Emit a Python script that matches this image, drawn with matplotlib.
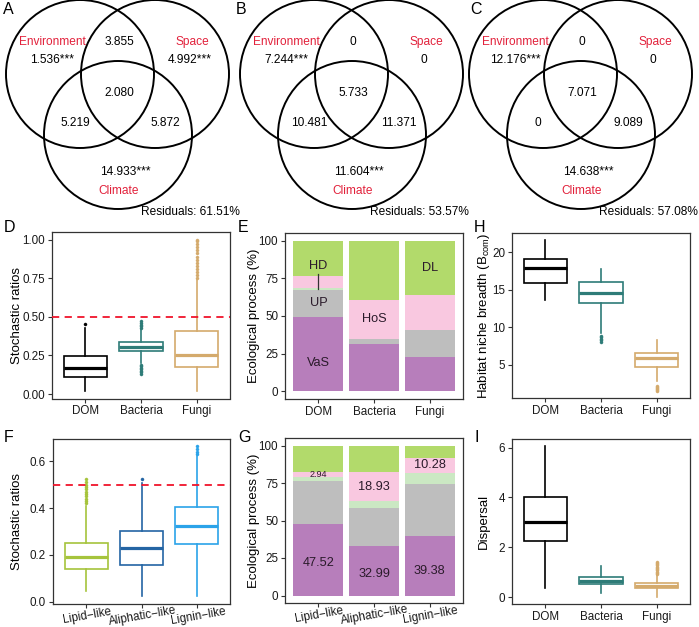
import matplotlib
matplotlib.use("Agg")
import matplotlib.pyplot as plt
from matplotlib.patches import Circle

plt.rcParams['font.family'] = ['Liberation Sans', 'DejaVu Sans']
plt.rcParams['mathtext.fontset'] = 'custom'
plt.rcParams['mathtext.rm'] = 'Liberation Sans'
plt.rcParams['axes.unicode_minus'] = True

# ---------------- DATA ----------------
# Venn (variation partitioning) values for panels A, B, C
env_only = [1.536, 7.244, 12.176]
space_only = [4.992, 0, 0]
climate_only = [14.933, 11.604, 14.638]
env_space = [3.855, 0, 0]
env_climate = [5.219, 10.481, 0]
space_climate = [5.872, 11.371, 9.089]
all_three = [2.080, 5.733, 7.071]
residuals = [61.51, 53.57, 57.08]
signif_only = ["***", "***", "***"]

groups = ["DOM", "Bacteria", "Fungi"]
mol_groups = ["Lipid\u2212like", "Aliphatic\u2212like", "Lignin\u2212like"]

# D: stochastic ratios (boxplot stats)
D_q1 = [0.11, 0.28, 0.175]
D_med = [0.17, 0.305, 0.255]
D_q3 = [0.245, 0.335, 0.405]
D_lo = [0.02, 0.20, 0.02]
D_hi = [0.43, 0.42, 0.74]
D_fliers = [[0.455],
            [0.13, 0.14, 0.15, 0.16, 0.17, 0.18, 0.19, 0.43, 0.44, 0.45, 0.46, 0.47],
            [0.75, 0.77, 0.79, 0.81, 0.83, 0.85, 0.87, 0.89, 0.91, 0.93, 0.95, 0.97, 0.99, 1.0]]

# F: stochastic ratios by molecular class
F_q1 = [0.14, 0.158, 0.248]
F_med = [0.19, 0.229, 0.325]
F_q3 = [0.253, 0.30, 0.403]
F_lo = [0.045, 0.024, 0.024]
F_hi = [0.41, 0.505, 0.62]
F_fliers = [[0.42, 0.43, 0.44, 0.45, 0.46, 0.47, 0.48, 0.49, 0.50, 0.51, 0.525],
            [0.523],
            [0.63, 0.64, 0.65, 0.665]]

# H: habitat niche breadth
H_q1 = [15.97, 13.3, 4.78]
H_med = [17.88, 14.65, 5.88]
H_q3 = [19.07, 16.1, 6.6]
H_lo = [13.67, 9.2, 2.9]
H_hi = [21.63, 17.74, 8.27]
H_fliers = [[], [8.1, 8.3, 8.5, 8.7, 8.9], [1.5, 1.6, 1.75, 1.9, 2.1, 2.2]]

# I: dispersal
I_q1 = [2.27, 0.52, 0.37]
I_med = [3.0, 0.63, 0.46]
I_q3 = [4.0, 0.79, 0.58]
I_lo = [0.38, 0.17, 0.02]
I_hi = [6.05, 1.25, 0.88]
I_fliers = [[], [], [0.92, 0.97, 1.02, 1.07, 1.12, 1.17, 1.22, 1.27, 1.32, 1.37, 1.4]]

# E: ecological processes (%) for DOM, Bacteria, Fungi
processes = ["VaS", "UP", "HD", "HoS", "DL"]
E_VaS = [49.5, 31.4, 23.1]
E_UP = [17.6, 3.1, 17.4]
E_HD = [1.6, 0.4, 0.3]
E_HoS = [7.5, 25.6, 23.0]
E_DL = [23.8, 39.5, 36.2]

# G: ecological processes (%) for molecular classes
G_VaS = [47.52, 32.99, 39.38]
G_UP = [29.0, 25.4, 35.0]
G_HD = [2.70, 4.70, 7.30]
G_HoS = [2.94, 18.93, 10.28]
G_DL = [17.84, 17.98, 8.04]

# ---------------- STYLE ----------------
W, H = 699, 627
fig = plt.figure(figsize=(W / 100, H / 100), dpi=100)

proc_colors = ["#B77EBB", "#BEBEBE", "#CBE8C3", "#F9C8E0", "#B2DA6B"]
grp_colors = ["#000000", "#2E7C78", "#D4AA6C"]
mol_colors = ["#A6C43C", "#2465A4", "#2BA3E9"]
red_lab = "#E2213B"
frame_c = "#333333"


def px_axes(x0, y0, x1, y1):
    return fig.add_axes([x0 / W, 1 - y1 / H, (x1 - x0) / W, (y1 - y0) / H])


def style_axes(ax):
    for s in ax.spines.values():
        s.set_color(frame_c)
        s.set_linewidth(0.9)
    ax.tick_params(direction='out', length=3, width=0.8, color=frame_c,
                   labelsize=8.4, labelcolor='#1a1a1a', pad=2)


# ---------------- VENN (A, B, C) ----------------
axv = px_axes(0, 0, W, 222)
axv.set_xlim(0, W)
axv.set_ylim(222, 0)
axv.axis('off')
offsets = [0, 234, 463]
res_right = [240, 469, 698]
circ_centers = [(80, 74), (155, 74), (118, 135)]
R = 74


def fmt(v):
    return "0" if v == 0 else f"{v:.3f}"


for k, ox in enumerate(offsets):
    for (cx, cy) in circ_centers:
        axv.add_patch(Circle((ox + cx, cy), R, fill=False, lw=1.4,
                             edgecolor='black', clip_on=False))
    fs = 8.6
    axv.text(ox + 52, 42, "Environment", color=red_lab, fontsize=fs, ha='center', va='center')
    axv.text(ox + 192, 42, "Space", color=red_lab, fontsize=fs, ha='center', va='center')
    axv.text(ox + 119, 191, "Climate", color=red_lab, fontsize=fs, ha='center', va='center')
    axv.text(ox + 52, 60, fmt(env_only[k]) + (signif_only[k] if env_only[k] else ""),
             fontsize=fs, ha='center', va='center')
    axv.text(ox + 190, 60, fmt(space_only[k]) + (signif_only[k] if space_only[k] else ""),
             fontsize=fs, ha='center', va='center')
    axv.text(ox + 125, 172, fmt(climate_only[k]) + (signif_only[k] if climate_only[k] else ""),
             fontsize=fs, ha='center', va='center')
    axv.text(ox + 119, 42, fmt(env_space[k]), fontsize=fs, ha='center', va='center')
    axv.text(ox + 75, 123, fmt(env_climate[k]), fontsize=fs, ha='center', va='center')
    axv.text(ox + 165, 123, fmt(space_climate[k]), fontsize=fs, ha='center', va='center')
    axv.text(ox + 119, 93, fmt(all_three[k]), fontsize=fs, ha='center', va='center')
    axv.text(res_right[k], 212, f"Residuals: {residuals[k]:.2f}%", fontsize=fs,
             ha='right', va='center')

# panel letters
letters = [("A", 3, 10), ("B", 236, 10), ("C", 470, 10),
           ("D", 4, 228), ("E", 238, 228), ("H", 474, 228),
           ("F", 4, 437), ("G", 238, 437), ("I", 474, 437)]
for t, x, y in letters:
    fig.text(x / W, 1 - y / H, t, fontsize=11.5, ha='left', va='center')


# ---------------- BOXPLOTS ----------------
def boxplot(ax, q1, med, q3, lo, hi, fl, colors):
    for i in range(3):
        st = dict(med=med[i], q1=q1[i], q3=q3[i], whislo=lo[i], whishi=hi[i],
                  fliers=fl[i])
        c = colors[i]
        ax.bxp([st], positions=[i + 1], widths=0.78, patch_artist=True,
               showcaps=False,
               boxprops=dict(facecolor='white', edgecolor=c, linewidth=1.2),
               medianprops=dict(color=c, linewidth=2.3, solid_capstyle='butt'),
               whiskerprops=dict(color=c, linewidth=1.2),
               flierprops=dict(marker='o', markersize=2.2, markerfacecolor=c,
                               markeredgecolor=c, markeredgewidth=0.3))
    ax.set_xlim(0.4, 3.6)


def finish(ax, labels, rot=0):
    ax.set_xticks([1, 2, 3])
    style_axes(ax)
    if rot:
        ax.set_xticklabels(labels, rotation=rot, ha='center', va='top',
                           rotation_mode='anchor')
        ax.tick_params(axis='x', pad=1.5)
    else:
        ax.set_xticklabels(labels)


# D
axD = px_axes(52, 232, 230, 398.5)
boxplot(axD, D_q1, D_med, D_q3, D_lo, D_hi, D_fliers, grp_colors)
axD.axhline(0.5, color='#F0142B', lw=1.3, ls=(0, (4, 3)), zorder=5)
axD.set_ylim(-0.029, 1.049)
axD.set_yticks([0, 0.25, 0.5, 0.75, 1.0])
axD.set_yticklabels(["0.00", "0.25", "0.50", "0.75", "1.00"])
finish(axD, groups)
axD.set_ylabel("Stochastic ratios", fontsize=9.5)
axD.yaxis.set_label_coords(-0.165, 0.5)

# F
axF = px_axes(53, 439, 230, 604)
boxplot(axF, F_q1, F_med, F_q3, F_lo, F_hi, F_fliers, mol_colors)
axF.axhline(0.5, color='#F0142B', lw=1.3, ls=(0, (4, 3)), zorder=5)
axF.set_ylim(-0.009, 0.694)
axF.set_yticks([0, 0.2, 0.4, 0.6])
axF.set_yticklabels(["0.0", "0.2", "0.4", "0.6"])
finish(axF, mol_groups, rot=10)
axF.set_ylabel("Stochastic ratios", fontsize=9.5)
axF.yaxis.set_label_coords(-0.17, 0.5)

# H
axH = px_axes(512, 233, 690, 398.3)
boxplot(axH, H_q1, H_med, H_q3, H_lo, H_hi, H_fliers, grp_colors)
axH.set_ylim(0.55, 22.6)
axH.set_yticks([5, 10, 15, 20])
finish(axH, groups)
axH.set_ylabel(r"Habitat niche breadth (B$_{\mathregular{com}}$)", fontsize=9.5)
axH.yaxis.set_label_coords(-0.112, 0.5)

# I
axI = px_axes(512, 439, 690, 604)
boxplot(axI, I_q1, I_med, I_q3, I_lo, I_hi, I_fliers, grp_colors)
axI.set_ylim(-0.28, 6.35)
axI.set_yticks([0, 2, 4, 6])
finish(axI, groups)
axI.set_ylabel("Dispersal", fontsize=9.5)
axI.yaxis.set_label_coords(-0.125, 0.5)


# ---------------- STACKED BARS ----------------
def stacked(ax, series):
    x = [1, 2, 3]
    bottom = [0, 0, 0]
    for vals, col in zip(series, proc_colors):
        ax.bar(x, vals, bottom=bottom, width=0.9, color=col, linewidth=0)
        bottom = [b + v for b, v in zip(bottom, vals)]
    ax.set_xlim(0.4, 3.6)
    ax.set_ylim(-5, 105)
    ax.set_yticks([0, 25, 50, 75, 100])


axE = px_axes(285, 233, 463, 399)
stacked(axE, [E_VaS, E_UP, E_HD, E_HoS, E_DL])
finish(axE, groups)
axE.set_ylabel("Ecological process (%)", fontsize=9.5)
axE.yaxis.set_label_coords(-0.14, 0.5)
lab_c = '#2a1a2a'
axE.text(1, 19, "VaS", fontsize=9.2, ha='center', va='center', color=lab_c)
axE.text(1, E_VaS[0] + E_UP[0] / 2, "UP", fontsize=9.2, ha='center', va='center', color=lab_c)
axE.text(1, 83, "HD", fontsize=9.2, ha='center', va='center', color=lab_c)
hd_mid = E_VaS[0] + E_UP[0] + E_HD[0] / 2
axE.plot([1, 1], [hd_mid, 78], color='#333333', lw=0.9)
axE.text(2, E_VaS[1] + E_UP[1] + E_HD[1] + E_HoS[1] / 2, "HoS", fontsize=9.2,
         ha='center', va='center', color=lab_c)
axE.text(3, 100 - E_DL[2] / 2, "DL", fontsize=9.2, ha='center', va='center', color=lab_c)

axG = px_axes(285, 438, 463, 603)
stacked(axG, [G_VaS, G_UP, G_HD, G_HoS, G_DL])
finish(axG, mol_groups, rot=10)
axG.set_ylabel("Ecological process (%)", fontsize=9.5)
axG.yaxis.set_label_coords(-0.14, 0.5)
vas_label_y = [22, 14.5, 16]
for i in range(3):
    axG.text(i + 1, vas_label_y[i], f"{G_VaS[i]:.2f}", fontsize=9.2, ha='center',
             va='center', color=lab_c)
    hos_mid = G_VaS[i] + G_UP[i] + G_HD[i] + G_HoS[i] / 2
    axG.text(i + 1, hos_mid, f"{G_HoS[i]:.2f}", fontsize=6.5 if i == 0 else 9.2,
             ha='center', va='center', color=lab_c)

fig.savefig("out.png", dpi=100)
